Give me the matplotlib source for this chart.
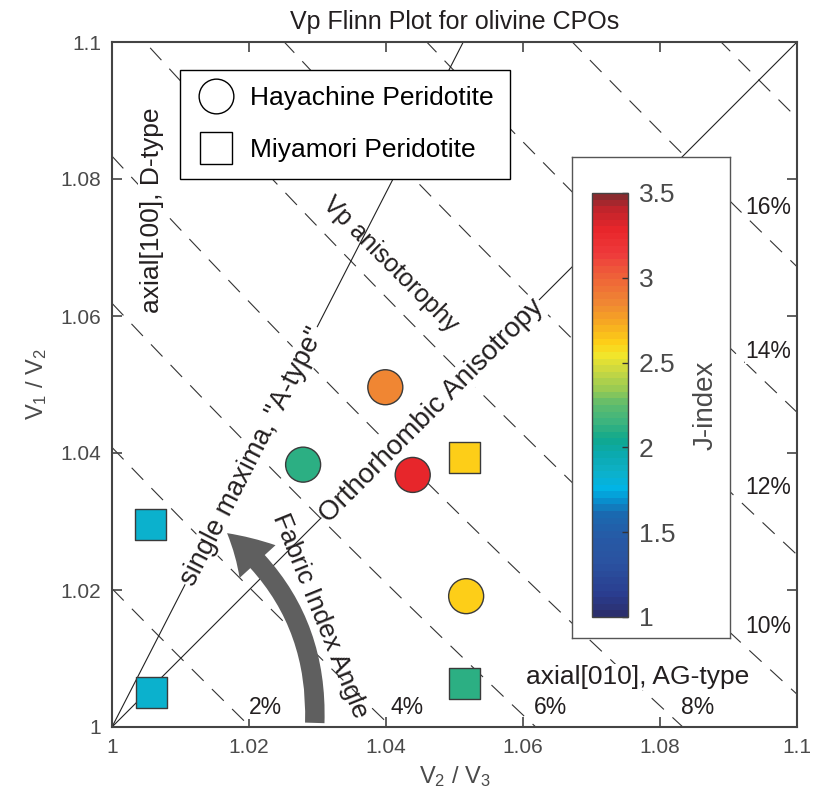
import numpy as np
import matplotlib
matplotlib.use("Agg")
import matplotlib.pyplot as plt
from matplotlib.colors import LinearSegmentedColormap
from matplotlib.lines import Line2D
from matplotlib.patches import FancyArrowPatch

plt.rcParams['font.family'] = ['Liberation Sans', 'DejaVu Sans']
plt.rcParams['mathtext.default'] = 'regular'

# sample data: V2/V3, V1/V2 and J-index
hay_x = [1.0279, 1.0399, 1.0439, 1.0517]
hay_y = [1.0383, 1.0496, 1.0368, 1.0191]
hay_j = [2.12, 2.85, 3.30, 2.62]
miy_x = [1.0056, 1.0058, 1.0514, 1.0515]
miy_y = [1.0296, 1.0051, 1.0393, 1.0064]
miy_j = [1.85, 1.85, 2.62, 2.12]

# iso Vp-anisotropy contours (%) and label positions
aniso_pct = [2, 4, 6, 8, 10, 12, 14, 16, 18]
bottom_pct = [2, 4, 6, 8]
right_pct = [10, 12, 14, 16]
right_pct_y = [1.0146, 1.0349, 1.0548, 1.0758]
single_max_slope = 1.95   # V1/V2 vs V2/V3 slope of the "A-type" line

ticks = [1, 1.02, 1.04, 1.06, 1.08, 1.1]
tick_labels = ['1', '1.02', '1.04', '1.06', '1.08', '1.1']
cbar_ticks = [1, 1.5, 2, 2.5, 3, 3.5]

# colormap
cm_j = [1.0, 1.12, 1.3, 1.45, 1.6, 1.67, 1.75, 1.85, 1.95, 2.05, 2.15, 2.25,
        2.35, 2.45, 2.55, 2.62, 2.75, 2.85, 3.05, 3.15, 3.3, 3.42, 3.5]
cm_col = ['#2b2f6e', '#2a3d8f', '#2a52a0', '#2759a5', '#1a6ab0', '#0a8ccb',
          '#00b4e6', '#0db0c8', '#0baab0', '#10a88c', '#3db47e', '#5dbb6e',
          '#9bcb52', '#c8d843', '#f2e52a', '#fdd017', '#f6a623', '#f08a32',
          '#ee5a3a', '#ee3b3b', '#e8262b', '#c0242b', '#8b2a2e']
jmin, jmax = 1.0, 3.5
cmap = LinearSegmentedColormap.from_list(
    'jidx', [((j - jmin) / (jmax - jmin), c) for j, c in zip(cm_j, cm_col)], N=64)

txt = '#231f20'
gray = '#4a4a4a'

fig = plt.figure(figsize=(8.13, 8.09), dpi=100)
ax = fig.add_axes([112/813, 82/809, 685/813, 685/809])
ax.set_xlim(1, 1.1)
ax.set_ylim(1, 1.1)

# dashed iso-anisotropy lines: V1/V3 = (V2/V3)*(V1/V2) = r
xs = np.linspace(1, 1.1, 400)
for p in aniso_pct:
    r = (1 + p / 200) / (1 - p / 200)
    ax.plot(xs, r / xs, color='#333333', lw=0.8, ls=(0, (15, 10.5)), zorder=1)

# solid reference lines
ax.plot([1, 1.1], [1, 1.1], color='#222222', lw=0.8, zorder=1)
ax.plot([1, 1 + 0.1 / single_max_slope], [1, 1.1], color='#222222', lw=0.8, zorder=1)

wb = dict(facecolor='white', edgecolor='none', pad=1)
for p in bottom_pct:
    r = (1 + p / 200) / (1 - p / 200)
    ax.text(r - 0.0002, 1.0029, f'{p}%', ha='left', va='center', fontsize=16.5,
            color=txt, bbox=dict(facecolor='white', edgecolor='none', pad=0.5), zorder=3)
for p, yy in zip(right_pct, right_pct_y):
    ax.text(1.0925, yy, f'{p}%', ha='left', va='center', fontsize=16.5,
            color=txt, bbox=dict(facecolor='white', edgecolor='none', pad=0.5), zorder=3)

ax.text(1.0058, 1.0755, 'axial[100], D-type', rotation=90, ha='center', va='center',
        fontsize=19, color=txt, bbox=wb, zorder=3)
ax.text(1.0768, 1.0073, 'axial[010], AG-type', ha='center', va='center',
        fontsize=19, color=txt, bbox=wb, zorder=3)
ax.text(1.0205, 1.0395, 'single maxima, "A-type"', rotation=np.degrees(np.arctan(single_max_slope)),
        ha='center', va='center', rotation_mode='anchor', fontsize=19.5, color=txt, bbox=wb, zorder=3)
ax.text(1.0467, 1.0462, 'Orthorhombic Anisotropy', rotation=45, ha='center', va='center',
        rotation_mode='anchor', fontsize=20, color=txt, bbox=wb, zorder=3)
ax.text(1.0406, 1.0676, 'Vp anisotorophy', rotation=-45, ha='center', va='center',
        rotation_mode='anchor', fontsize=18, color=txt, zorder=3)
ax.text(1.0304, 1.0162, 'Fabric Index Angle', rotation=-68, ha='center', va='center',
        rotation_mode='anchor', fontsize=19, color=txt, zorder=6)

# curved fabric-angle arrow
arr = FancyArrowPatch((1.0296, 1.0006), (1.0168, 1.0283),
                      connectionstyle='arc3,rad=0.25',
                      arrowstyle='simple,head_length=30,head_width=35,tail_width=14',
                      mutation_scale=1, shrinkA=0, shrinkB=0,
                      color='#5f5f5f', lw=0, zorder=4)
ax.add_patch(arr)

# data points
sc = ax.scatter(hay_x, hay_y, c=hay_j, cmap=cmap, vmin=jmin, vmax=jmax, marker='o',
                s=635, edgecolors='#3a3a3a', linewidths=1, zorder=5)
ax.scatter(miy_x, miy_y, c=miy_j, cmap=cmap, vmin=jmin, vmax=jmax, marker='s',
           s=497, edgecolors='#3a3a3a', linewidths=1, zorder=5)

handles = [Line2D([], [], marker='o', ms=25, mfc='white', mec='black', mew=1, ls='none'),
           Line2D([], [], marker='s', ms=23, mfc='white', mec='black', mew=1, ls='none')]
leg = ax.legend(handles, ['Hayachine Peridotite', 'Miyamori Peridotite'],
                loc='upper left', bbox_to_anchor=(0.0993, 0.959), fontsize=19,
                frameon=True, fancybox=False, framealpha=1, edgecolor='black',
                handletextpad=0.55, labelspacing=1.05, borderpad=0.62, handlelength=1.5,
                borderaxespad=0)
leg.get_frame().set_linewidth(1.0)
leg.set_zorder(7)

ax.set_xticks(ticks)
ax.set_yticks(ticks)
ax.set_xticklabels(tick_labels)
ax.set_yticklabels(tick_labels)
ax.tick_params(direction='in', length=7, width=1.2, top=True, right=True,
               labelsize=15, colors='#444444', labelcolor=gray, pad=8)
for s in ax.spines.values():
    s.set_linewidth(1.5)
    s.set_color('#444444')
ax.set_xlabel('V$_2$ / V$_3$', fontsize=17, color=gray, labelpad=5)
ax.set_ylabel('V$_1$ / V$_2$', fontsize=17, color=gray, labelpad=8)
ax.set_title('Vp Flinn Plot for olivine CPOs', fontsize=18, color=txt, pad=9)

# colorbar with white box behind
box = fig.add_axes([572/813, (809-638)/809, 158/813, 481/809])
box.set_xticks([])
box.set_yticks([])
for s in box.spines.values():
    s.set_color('#555555')
    s.set_linewidth(1)
cax = fig.add_axes([592/813, (809-617)/809, 36/813, 424/809])
cb = fig.colorbar(sc, cax=cax, ticks=cbar_ticks)
cb.ax.set_yticklabels(['1', '1.5', '2', '2.5', '3', '3.5'])
cb.ax.tick_params(direction='in', length=4, width=1, labelsize=19, labelcolor=gray,
                  colors='#333333', pad=8)
cb.outline.set_linewidth(1)
cb.outline.set_edgecolor('#444444')
cb.set_label('J-index', fontsize=20, color=gray, labelpad=12)

fig.savefig('out.png', dpi=100)
